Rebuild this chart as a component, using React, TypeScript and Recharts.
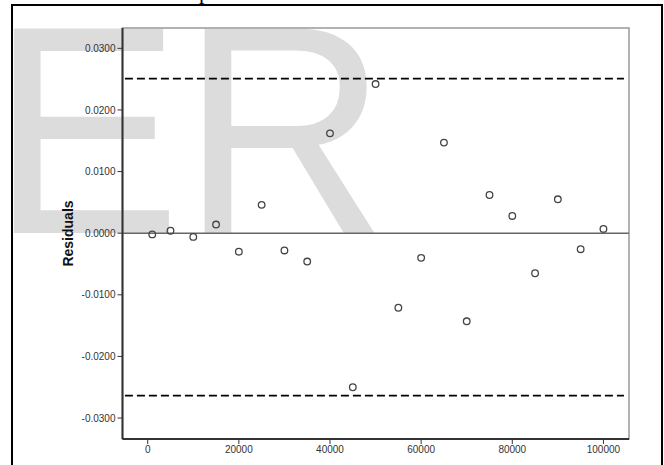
import React from 'react';
import { ScatterChart, Scatter, XAxis, YAxis, ReferenceLine, ReferenceArea, Label } from 'recharts';

// sample sizes (x) and their residuals
const xValues = [
  1000, 5000, 10000, 15000, 20000, 25000, 30000, 35000, 40000, 45000, 50000,
  55000, 60000, 65000, 70000, 75000, 80000, 85000, 90000, 95000, 100000,
];
const residuals = [
  -0.0002, 0.0004, -0.0006, 0.0014, -0.003, 0.0046, -0.0028, -0.0046, 0.0162, -0.025, 0.0242,
  -0.0121, -0.004, 0.0147, -0.0143, 0.0062, 0.0028, -0.0065, 0.0055, -0.0026, 0.0007,
];

const xTicks = [0, 20000, 40000, 60000, 80000, 100000];
const yTicks = [-0.03, -0.02, -0.01, 0, 0.01, 0.02, 0.03];
const xDomain = [-5530, 105610];
const yDomain = [-0.0334, 0.0333];

// dashed control limits and the x range they cover
const upperLimit = 0.0251;
const lowerLimit = -0.02635;
const limitFrom = -5000;
const limitTo = 104500;

const data = xValues.map((x, i) => ({ x, r: residuals[i] }));

const font = '"Liberation Sans", Arial, sans-serif';
const tickStyle = { fontSize: 10, fill: '#333', fontFamily: font };

const Ring = (p: any) => (
  <circle cx={p.cx} cy={p.cy} r={3.3} fill="none" stroke="#444" strokeWidth={1.3} />
);

export default function App() {
  return (
    <div style={{ position: 'absolute', left: 0, top: 0, width: 664, height: 465, overflow: 'hidden', background: '#fff' }}>
      <svg width={664} height={465} style={{ position: 'absolute', left: 0, top: 0 }}>
        {/* watermark, stretched a little vertically to match */}
        <text
          x={-9.6}
          y={233}
          fontSize={286}
          fontFamily={font}
          fill="#dcdcdc"
          transform="translate(0,233) scale(1,1.04) translate(0,-233)"
        >
          ER
        </text>
        <text x={199} y={-1} fontSize={22} fontFamily='"Liberation Serif", serif' fill="#000">p</text>
      </svg>
      <div style={{ position: 'absolute', left: 11, top: 4, width: 648, height: 520, border: '2px solid #000' }} />
      <div style={{ position: 'absolute', left: 0, top: 0 }}>
        <ScatterChart width={664} height={465} margin={{ top: 28, right: 35, bottom: 0, left: 0 }}>
          <XAxis
            dataKey="x"
            type="number"
            domain={xDomain}
            ticks={xTicks}
            allowDataOverflow
            height={26}
            tick={tickStyle}
            tickSize={5}
            tickLine={{ stroke: '#333' }}
            axisLine={{ stroke: '#333', strokeWidth: 2 }}
          />
          <YAxis
            dataKey="r"
            type="number"
            domain={yDomain}
            ticks={yTicks}
            allowDataOverflow
            width={122.5}
            tick={tickStyle}
            tickSize={5}
            tickFormatter={(v) => Number(v).toFixed(4)}
            tickLine={{ stroke: '#333' }}
            axisLine={{ stroke: '#333', strokeWidth: 2 }}
          >
            <Label
              value="Residuals"
              angle={-90}
              position="insideLeft"
              offset={68}
              style={{ fontSize: 14, fontWeight: 'bold', fill: '#111', fontFamily: font, textAnchor: 'middle' }}
            />
          </YAxis>
          <ReferenceArea
            x1={xDomain[0]}
            x2={xDomain[1]}
            y1={yDomain[0]}
            y2={yDomain[1]}
            fill="none"
            stroke="#999"
            strokeWidth={1.5}
          />
          <ReferenceLine y={0} stroke="#666" strokeWidth={1.5} />
          <ReferenceLine
            segment={[{ x: limitFrom, y: upperLimit }, { x: limitTo, y: upperLimit }]}
            stroke="#000"
            strokeWidth={1.8}
            strokeDasharray="8 4"
          />
          <ReferenceLine
            segment={[{ x: limitFrom, y: lowerLimit }, { x: limitTo, y: lowerLimit }]}
            stroke="#000"
            strokeWidth={1.8}
            strokeDasharray="8 4"
          />
          <Scatter data={data} shape={Ring} isAnimationActive={false} />
        </ScatterChart>
      </div>
    </div>
  );
}
